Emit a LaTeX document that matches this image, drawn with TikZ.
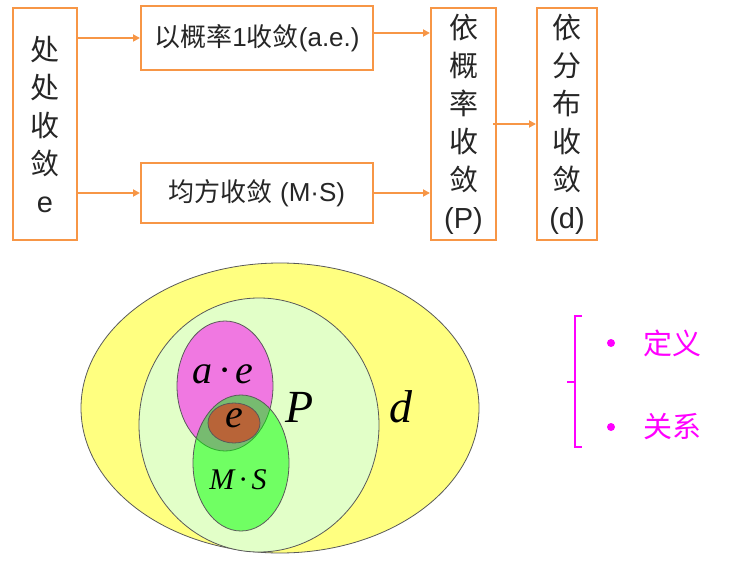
\documentclass[tikz,border=0pt]{standalone}
\usepackage{fontspec}
\setmainfont{Liberation Sans}
\newfontfamily\cjk{Noto Sans CJK SC}
\newfontfamily\vennfont{Liberation Serif}
\usetikzlibrary{arrows.meta}
\definecolor{boxorange}{RGB}{247,150,70}
\definecolor{textgray}{RGB}{38,38,38}
\definecolor{keymagenta}{RGB}{255,0,255}
\definecolor{dset}{RGB}{255,255,128}
\definecolor{pset}{RGB}{226,255,200}
\definecolor{aeset}{RGB}{240,120,225}
\definecolor{msset}{RGB}{0,255,0}
\definecolor{eset}{RGB}{184,100,56}
\tikzset{
  convbox/.style={draw=boxorange,line width=2,fill=white,align=center,
                  inner sep=0,text=textgray},
  vbox/.style={convbox,minimum width=64,minimum height=232,
               font={\cjk\fontsize{29}{38}\selectfont}},
  hbox/.style={convbox,minimum width=232,minimum height=64,
               font={\fontsize{26}{30}\selectfont}},
  convarrow/.style={-{Triangle[length=7,width=7]},line width=2,boxorange},
  vennset/.style={draw=black!65,line width=0.8},
  vennlabel/.style={font={\vennfont\itshape\fontsize{44}{44}\selectfont},text=black},
  keylabel/.style={text=keymagenta,font={\cjk\fontsize{29}{30}\selectfont}},
}

\begin{document}
\begin{tikzpicture}[x=1pt,y=-1pt]
  \useasboundingbox (0,0) rectangle (736,580);
  % Convergence boxes
  \node[vbox] (pw) at (45,124) {处\\处\\收\\敛\\\textrm{e}};
  \node[hbox] (ae) at (257,38) {{\cjk 以概率}1{\cjk 收敛}(a.e.)};
  \node[hbox,minimum height=60] (ms) at (257,193) {{\cjk 均方收敛} (M·S)};
  \node[vbox,minimum width=65] (pr) at (463.5,124) {依\\概\\率\\收\\敛\\\textrm{(P)}};
  \node[vbox,minimum width=60] (di) at (567,124) {依\\分\\布\\收\\敛\\\textrm{(d)}};
  % Implications
  \draw[convarrow] (pw.east |- ae.west) -- (ae.west);
  \draw[convarrow] (pw.east |- ms.west) -- (ms.west);
  \draw[convarrow] ([yshift=5]ae.east) -- ([yshift=5]pr.west |- ae.east);
  \draw[convarrow] (ms.east) -- (pr.west |- ms.east);
  \draw[convarrow] ([xshift=-4]pr.east) -- (di.west);
  % Venn diagram of the modes
  \filldraw[vennset,fill=dset] (280,408) ellipse [x radius=199,y radius=145];
  \filldraw[vennset,fill=pset] (259,425) ellipse [x radius=120,y radius=127];
  \filldraw[vennset,fill=aeset] (225,386) ellipse [x radius=48,y radius=65];
  \filldraw[vennset,fill=msset,fill opacity=0.5] (241,463) ellipse [x radius=48,y radius=68];
  \filldraw[vennset,fill=eset] (234,423) ellipse [x radius=26,y radius=20];
  \node[vennlabel,font={\vennfont\itshape\fontsize{40}{40}\selectfont}] (lae) at (223,374) {a\,·\,e};
  \node[vennlabel,font={\vennfont\itshape\fontsize{40}{40}\selectfont}] (le) at (234,418) {e};
  \node[vennlabel,font={\vennfont\itshape\fontsize{46}{46}\selectfont}] (lp) at (300,407) {P};
  \node[vennlabel,font={\vennfont\itshape\fontsize{46}{46}\selectfont}] (ld) at (401,407) {d};
  \node[vennlabel,font={\vennfont\itshape\fontsize{30}{30}\selectfont}] (lms) at (238,480) {M\,·\,S};
  % Key
  \draw[keymagenta,line width=2.5] (582,316) -- (575,316) -- (575,447) -- (582,447);
  \draw[keymagenta,line width=2.5] (575,382) -- (567,382);
  \fill[keymagenta] (611,343) circle (4);
  \fill[keymagenta] (611,427) circle (4);
  \node[keylabel] (kdef) at (672,343) {定义};
  \node[keylabel] (krel) at (672,427) {关系};
\end{tikzpicture}
\end{document}
